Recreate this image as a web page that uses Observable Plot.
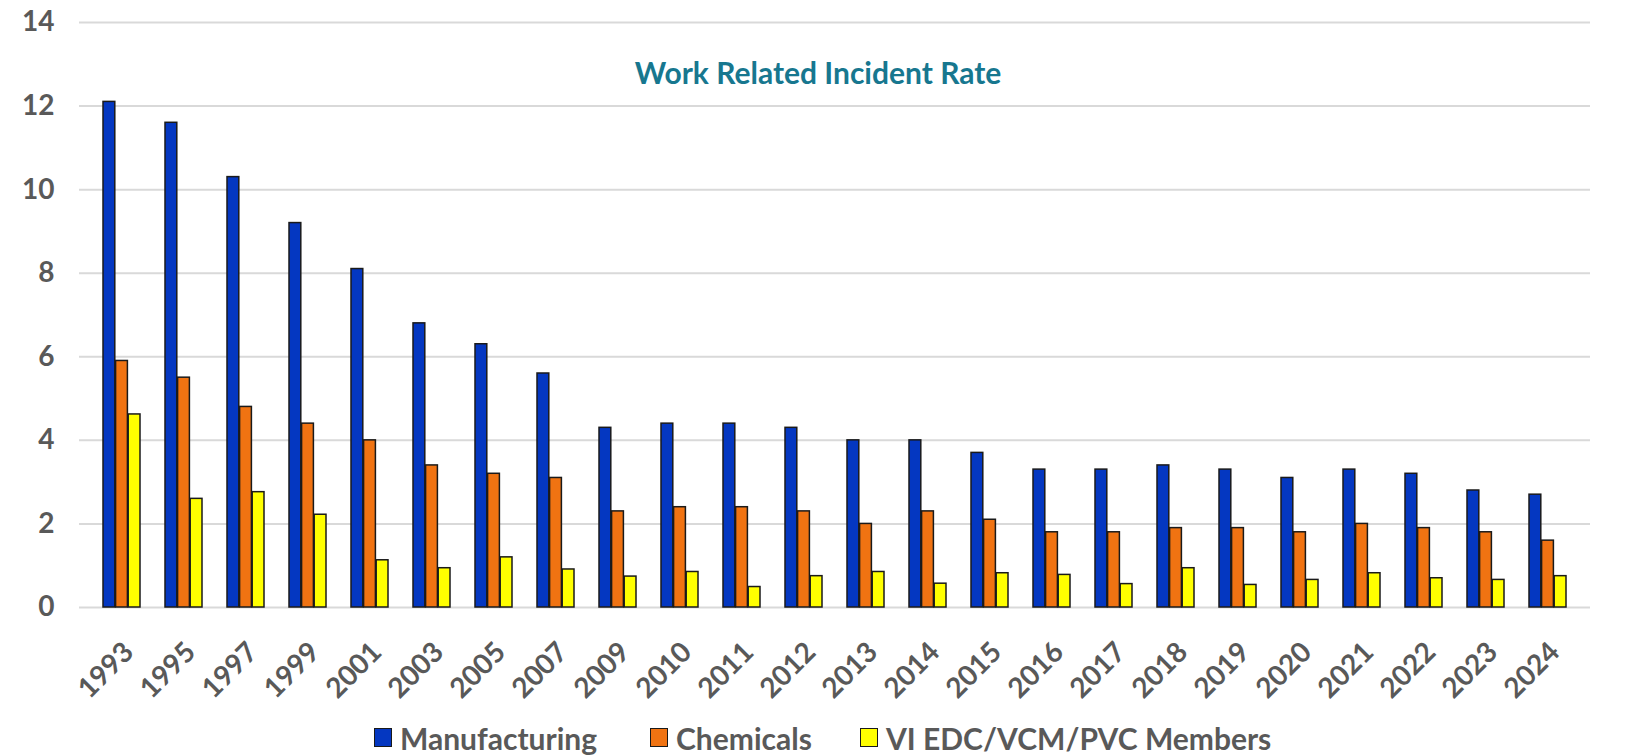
<!DOCTYPE html>
<html>
<head>
<meta charset="utf-8">
<script src="https://cdn.jsdelivr.net/npm/d3@7"></script>
<script src="https://cdn.jsdelivr.net/npm/@observablehq/plot@0.6"></script>
<style>
  html, body { margin: 0; padding: 0; background: #fff; }
  #chart { width: 1633px; position: relative; }
  .legend { position: relative; height: 35px; width: 1633px;
    font-family: Lato, "Open Sans", sans-serif; font-weight: bold; font-size: 30px; color: #595959; }
  .legend .item { position: absolute; top: 0; height: 35px; display: flex; align-items: center; gap: 8px; white-space: nowrap; }
  .legend .sw { width: 18px; height: 19px; border: 1.5px solid #1a1a1a; box-sizing: border-box; }
</style>
</head>
<body>
<div id="chart"></div>
<script>
const years = ["1993","1995","1997","1999","2001","2003","2005","2007","2009","2010","2011","2012","2013","2014","2015","2016","2017","2018","2019","2020","2021","2022","2023","2024"];
const seriesNames = ["Manufacturing", "Chemicals", "VI EDC/VCM/PVC Members"];
const manufacturing = [12.1,11.6,10.3,9.2,8.1,6.8,6.3,5.6,4.3,4.4,4.4,4.3,4.0,4.0,3.7,3.3,3.3,3.4,3.3,3.1,3.3,3.2,2.8,2.7];
const chemicals = [5.9,5.5,4.8,4.4,4.0,3.4,3.2,3.1,2.3,2.4,2.4,2.3,2.0,2.3,2.1,1.8,1.8,1.9,1.9,1.8,2.0,1.9,1.8,1.6];
const viMembers = [4.62,2.6,2.76,2.22,1.13,0.94,1.2,0.91,0.74,0.85,0.49,0.75,0.85,0.57,0.82,0.78,0.56,0.94,0.54,0.66,0.82,0.70,0.66,0.75];
const yTicks = [0,2,4,6,8,10,12,14];
const colors = ["#0437C1", "#F07312", "#FFFF00"];
const titleText = "Work Related Incident Rate";

const toRows = (vals) => years.map((y, i) => ({year: y, value: vals[i]}));
const rowsM = toRows(manufacturing);
const rowsC = toRows(chemicals);
const rowsV = toRows(viMembers);

const barStyle = {stroke: "#1a1a1a", strokeWidth: 1.5};
const hasAxisMarks = typeof Plot.axisX === "function";

const axisMarks = hasAxisMarks ? [
  Plot.axisY(yTicks, {tickSize: 0, tickPadding: 25, label: null, fontSize: 28, fontWeight: "bold", color: "#595959"}),
  Plot.axisX({tickSize: 0, tickPadding: 40, tickRotate: -45, dx: 7, label: null, fontSize: 28, fontWeight: "bold", color: "#595959"})
] : [];

const plot = Plot.plot({
  width: 1633,
  height: 720,
  marginLeft: 79,
  marginRight: 43,
  marginTop: 22,
  marginBottom: 113,
  style: {fontFamily: "Lato, 'Open Sans', sans-serif", fontWeight: "bold", fontSize: "28px", color: "#595959", background: "#fff", overflow: "visible"},
  x: {domain: years, paddingInner: 0.41, paddingOuter: 0.205, label: null, tickSize: 0, tickPadding: 40, tickRotate: -45, axis: hasAxisMarks ? null : "bottom"},
  y: {domain: [0, 14], ticks: yTicks, label: null, tickSize: 0, tickPadding: 25, axis: hasAxisMarks ? null : "left"},
  marks: [
    Plot.ruleY(yTicks, {stroke: "#d9d9d9", strokeWidth: 2}),
    Plot.barY(rowsM, {x: "year", y: "value", fill: colors[0], ...barStyle, insetLeft: 0, insetRight: 25.2}),
    Plot.barY(rowsC, {x: "year", y: "value", fill: colors[1], ...barStyle, insetLeft: 12.6, insetRight: 12.6}),
    Plot.barY(rowsV, {x: "year", y: "value", fill: colors[2], ...barStyle, insetLeft: 25.2, insetRight: 0}),
    Plot.text([titleText], {frameAnchor: "top", dx: -17, dy: 40, text: d => d, fill: "#17778F", fontSize: 30, fontWeight: "bold"}),
    ...axisMarks
  ]
});
document.getElementById("chart").appendChild(plot);

const legendLeft = [374, 650, 860];
const legend = document.createElement("div");
legend.className = "legend";
seriesNames.forEach((name, i) => {
  const item = document.createElement("div");
  item.className = "item";
  item.style.left = legendLeft[i] + "px";
  const sw = document.createElement("span");
  sw.className = "sw";
  sw.style.background = colors[i];
  const label = document.createElement("span");
  label.textContent = name;
  item.appendChild(sw);
  item.appendChild(label);
  legend.appendChild(item);
});
document.getElementById("chart").appendChild(legend);
</script>
</body>
</html>
